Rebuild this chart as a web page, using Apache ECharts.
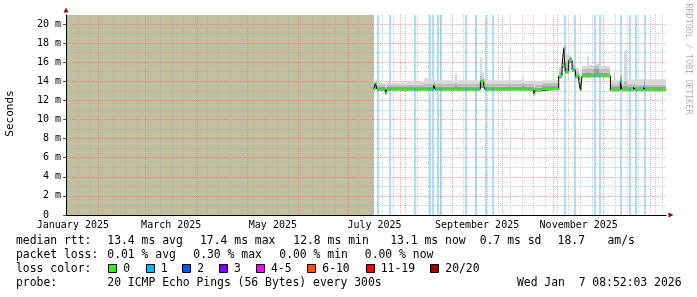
<!DOCTYPE html>
<html><head><meta charset="utf-8">
<script src="https://cdn.jsdelivr.net/npm/echarts@6/dist/echarts.min.js"></script>
<style>html,body{margin:0;padding:0;background:#fff}#c{width:697px;height:297px}</style>
</head><body><div id="c"></div><script>
// ---- time range & ticks ----
const startTime = '2025-01-12T08:52:03Z';
const endTime = '2026-01-07T08:52:03Z';
const monthLabels = ['January 2025','March 2025','May 2025','July 2025','September 2025','November 2025'];
const labelMonthIdx = [0, 2, 4, 6, 8, 10];
const yTickValues = [0,2,4,6,8,10,12,14,16,18,20];
const yTickLabels = ['0  ','2 m','4 m','6 m','8 m','10 m','12 m','14 m','16 m','18 m','20 m'];
const yMinorValues = [1,3,5,7,9,11,13,15,17,19];
const yMax = 20.94;
const firstDataDate = '2025-07-16';

// ---- median rtt (ms), step changes ----
const medianDates = ['2025-07-16','2025-07-17','2025-07-18','2025-07-23','2025-07-24','2025-08-21','2025-08-22',
  '2025-09-18','2025-09-20','2025-09-21','2025-10-20','2025-10-21','2025-10-25','2025-11-04','2025-11-06',
  '2025-11-07','2025-11-08','2025-11-10','2025-11-12','2025-11-14','2025-11-16','2025-11-17','2025-11-18',
  '2025-12-05','2025-12-11','2025-12-12','2025-12-19','2025-12-20','2025-12-25','2025-12-26'];
const medianValues = [13.2,13.8,13.15,12.8,13.15,13.6,13.15,
  14.0,13.5,13.15,12.7,13.05,13.2,14.55,15.7,
  17.45,15.0,16.2,15.2,14.5,14.0,13.1,14.55,
  13.1,14.0,13.1,13.4,13.1,13.4,13.1];

// ---- days with packet loss (1/20) ----
const lossDates = ['2025-07-18','2025-07-25','2025-08-09','2025-08-18','2025-08-20','2025-08-23','2025-08-25',
  '2025-09-09','2025-09-15','2025-09-21','2025-09-25','2025-11-07','2025-11-13','2025-11-25','2025-11-28',
  '2025-12-11','2025-12-16','2025-12-20','2025-12-25'];

// ---- smoke (ping distribution), step changes ----
const smokeDates = ['2025-07-16','2025-07-17','2025-07-18','2025-07-23','2025-07-24','2025-07-25','2025-07-26',
  '2025-08-05','2025-08-15','2025-08-21','2025-08-22','2025-09-03','2025-09-04','2025-09-18','2025-09-19',
  '2025-09-20','2025-09-21','2025-10-05','2025-10-06','2025-10-13','2025-10-14','2025-10-20','2025-10-21',
  '2025-10-25','2025-11-04','2025-11-06','2025-11-07','2025-11-08','2025-11-10','2025-11-12','2025-11-14',
  '2025-11-16','2025-11-17','2025-11-18','2025-11-21','2025-11-22','2025-11-25','2025-11-28','2025-12-05',
  '2025-12-07','2025-12-08','2025-12-11','2025-12-12','2025-12-13','2025-12-15','2025-12-19','2025-12-20',
  '2025-12-25','2025-12-26'];
const smokeLow  = [13.0,13.2,13.0,12.6,13.0,13.0,13.0, 13.0,13.0,13.15,13.0,13.0,13.0,13.3,13.3,
  13.1,13.0,13.0,13.0,13.0,13.0,12.5,12.9, 13.05,14.3,15.4,16.9,14.8,15.9,15.0,14.3,
  13.8,13.0,14.4,14.4,14.4,14.4,14.4,12.95, 12.95,12.95,13.85,12.95,12.95,12.95,13.2,12.95, 13.2,12.95];
const smokeQ1   = [13.45,13.6,13.4,13.0,13.4,13.4,13.4, 13.4,13.45,13.55,13.45,13.5,13.45,13.9,13.75,
  13.55,13.45,13.5,13.45,13.5,13.45,12.95,13.35, 13.5,14.85,15.95,17.6,15.4,16.45,15.45,14.75,
  14.25,13.45,14.9,14.95,14.9,15.3,14.9,13.4, 13.45,13.4,14.35,13.4,13.55,13.4,13.55,13.4, 13.95,13.4];
const smokeQ2   = [13.7,13.9,13.6,13.4,13.6,13.65,13.6, 13.65,13.75,13.95,13.75,13.85,13.75,14.6,14.3,
  13.95,13.75,13.85,13.75,13.85,13.75,13.35,13.65, 13.8,15.15,16.1,18.0,16.1,16.6,15.7,15.05,
  14.55,13.95,15.3,15.4,15.3,15.6,15.3,13.7, 13.85,13.7,14.65,13.65,14.05,13.7,13.85,13.65, 14.25,13.65];
const smokeHigh = [14.0,14.2,13.85,13.8,13.9,14.05,13.85, 13.95,14.3,14.4,14.1,14.8,14.1,16.5,14.9,
  14.3,14.1,15.6,14.1,14.4,14.05,13.9,14.0, 14.1,15.5,16.3,18.3,16.9,16.7,15.9,15.4,
  14.8,14.4,15.6,16.6,15.7,15.8,15.6,14.1, 15.2,14.1,15.0,14.0,17.3,14.2,14.2,14.2, 14.5,14.2];

// ---- legend texts ----
const rttStats = [['median rtt:',16],['13.4 ms avg',107.3],['17.4 ms max',200],['12.8 ms min',293.3],['13.1 ms now',390.2],['0.7 ms sd',479.7],['18.7',557.6],['am/s',607.5]];
const lossStats = [['packet loss:',16],['0.01 % avg',107.3],['0.30 % max',193.3],['0.00 % min',279.3],['0.00 % now',364.8]];
const lossLabels = ['0','1','2','3','4-5','6-10','11-19','20/20'];
const lossColors = ['#26ff00','#00b8ff','#0059ff','#7e00ff','#ff00ff','#ff5500','#ff0000','#a10000'];
const lossSwatchX = [108.3,145.7,182.3,219,256,307.3,365.7,430.3];
const probeText = '20 ICMP Echo Pings (56 Bytes) every 300s';
const stampText = 'Wed Jan  7 08:52:03 2026';

// ---- build ----
const DAY = 86400000;
const ts = s => new Date(s.length === 10 ? s + 'T00:00:00Z' : s).getTime();
const xMin = ts(startTime), xMax = ts(endTime);
const monthStarts = [];
for (let y = 2025, m = 1; ; ) { const t = Date.UTC(y, m, 1); if (t > xMax) break; monthStarts.push(t); m++; if (m === 12) { m = 0; y++; } }
const weekly = [];
for (let t = Date.UTC(2025, 0, 13); t < xMax; t += 7 * DAY) weekly.push(t);
const labelPos = labelMonthIdx.map(m => (Date.UTC(2025, m, 1) + Date.UTC(2025, m + 1, 1)) / 2);
const labelMap = {}; labelPos.forEach((p, i) => labelMap[p] = monthLabels[i]);
const yLabelMap = {}; yTickValues.forEach((v, i) => yLabelMap[v] = yTickLabels[i]);

const medTs = medianDates.map(ts);
const medianLine = medTs.map((t, i) => [t, medianValues[i]]);
medianLine.push([xMax, medianValues[medianValues.length - 1]]);
const medianAt = t => { let v = medianValues[0]; for (let i = 0; i < medTs.length; i++) if (medTs[i] <= t) v = medianValues[i]; return v; };
const greenData = [];
medTs.forEach((t, i) => { const t1 = i + 1 < medTs.length ? medTs[i + 1] : xMax; greenData.push([t, medianValues[i]], [t1, medianValues[i]], [t1, '-']); });
const blueData = [];
lossDates.forEach(d => { const t = ts(d), v = medianAt(t); blueData.push([t, v], [t + DAY, v], [t + DAY, '-']); });

const smokeData = smokeDates.map((d, i) => [ts(d), i + 1 < smokeDates.length ? ts(smokeDates[i + 1]) : xMax, smokeLow[i], smokeQ1[i], smokeQ2[i], smokeHigh[i]]);
const bgData = [[xMin, ts(firstDataDate), 0]].concat(lossDates.map(d => [ts(d), ts(d) + DAY, 1]));

const MONO = '"DejaVu Sans Mono", monospace';
const RED = 'rgba(225,110,110,0.55)';
const GRAY = 'rgba(170,170,170,0.6)';

const graphic = [];
const addText = (text, x, y, opts) => graphic.push(Object.assign({ type: 'text', x, y, silent: true,
  style: Object.assign({ text, font: '11.4px ' + MONO, fill: '#000', align: 'left', verticalAlign: 'middle' }, (opts && opts.style) || {}) }, opts && opts.rotation !== undefined ? { rotation: opts.rotation } : {}));
rttStats.forEach(([t, x]) => addText(t, x, 241.5));
lossStats.forEach(([t, x]) => addText(t, x, 255.3));
addText('loss color:', 16, 269.1);
lossLabels.forEach((l, i) => {
  graphic.push({ type: 'rect', silent: true, shape: { x: Math.round(lossSwatchX[i]) + 0.5, y: 264.5, width: 8, height: 8 }, style: { fill: lossColors[i], stroke: '#000', lineWidth: 1 } });
  addText(l, lossSwatchX[i] + 15, 269.1);
});
addText('probe:', 16, 282.9);
addText(probeText, 107.3, 282.9);
addText(stampText, 681.5, 282.9, { style: { align: 'right' } });
addText('Seconds', 10.3, 113.5, { rotation: Math.PI / 2, style: { align: 'center', font: '11px ' + MONO } });
addText('RRDTOOL / TOBI OETIKER', 688.5, 59, { rotation: -Math.PI / 2, style: { align: 'center', font: '8.4px ' + MONO, fill: '#b4b4b4' } });

const chart = echarts.init(document.getElementById('c'), null, { renderer: 'canvas' });
chart.setOption({
  animation: false,
  backgroundColor: '#fff',
  grid: { left: 66, right: 31, top: 15, bottom: 82, containLabel: false, outerBoundsMode: 'none' },
  xAxis: [
    { type: 'value', position: 'bottom', min: xMin, max: xMax,
      axisLine: { show: true, onZero: false, lineStyle: { color: '#000', width: 1 } },
      axisTick: { show: false, customValues: monthStarts },
      axisLabel: { show: true, customValues: labelPos, formatter: v => labelMap[v] || '', color: '#000', fontFamily: MONO, fontSize: 10, margin: 5 },
      splitLine: { show: true, lineStyle: { color: RED, width: 1, type: [1, 1] } } },
    { type: 'value', position: 'bottom', min: xMin, max: xMax,
      axisLine: { show: true, onZero: false, lineStyle: { color: '#a00000', width: 0 }, symbol: ['none', 'triangle'], symbolSize: [5, 5], symbolOffset: [0, 5] },
      axisTick: { show: false, customValues: weekly },
      axisLabel: { show: false },
      splitLine: { show: true, lineStyle: { color: GRAY, width: 1, type: [1, 1] } } }
  ],
  yAxis: [
    { type: 'value', position: 'left', min: 0, max: yMax,
      axisLine: { show: true, onZero: false, lineStyle: { color: '#000', width: 1 } },
      axisTick: { show: true, customValues: yTickValues, length: 3, lineStyle: { color: '#555' } },
      axisLabel: { show: true, customValues: yTickValues, formatter: v => yLabelMap[v] || '', color: '#000', fontFamily: MONO, fontSize: 10, margin: 5 },
      splitLine: { show: true, lineStyle: { color: RED, width: 1, type: [1, 1] } } },
    { type: 'value', position: 'left', min: 0, max: yMax,
      axisLine: { show: true, onZero: false, lineStyle: { color: '#a00000', width: 0 }, symbol: ['none', 'triangle'], symbolSize: [5, 5], symbolOffset: [0, 5] },
      axisTick: { show: false, customValues: yMinorValues },
      axisLabel: { show: false },
      splitLine: { show: true, lineStyle: { color: GRAY, width: 1, type: [1, 1] } } }
  ],
  series: [
    { type: 'custom', name: 'background', z: -1, xAxisIndex: 0, yAxisIndex: 0, data: bgData,
      encode: { x: [0, 1], y: 2 },
      renderItem: (params, api) => {
        const p0 = api.coord([api.value(0), yMax]), p1 = api.coord([api.value(1), 0]);
        const x0 = Math.round(p0[0]), x1 = Math.round(p1[0]);
        return { type: 'rect', shape: { x: x0, y: p0[1], width: Math.max(2, x1 - x0), height: p1[1] - p0[1] },
          style: { fill: api.value(2) === 0 ? '#c1bf9e' : '#a6e3f8' } };
      } },
    { type: 'custom', name: 'smoke', z: 2, xAxisIndex: 0, yAxisIndex: 0, data: smokeData,
      encode: { x: [0, 1], y: [2, 5] },
      renderItem: (params, api) => {
        const x0v = api.value(0), x1v = api.value(1);
        const v = [api.value(2), api.value(3), api.value(4), api.value(5)];
        const cols = ['#9c9c9c', '#bcbcbc', '#d8d8d8'];
        const children = [];
        for (let k = 0; k < 3; k++) {
          const a = api.coord([x0v, v[k + 1]]), b = api.coord([x1v, v[k]]);
          const xa = Math.round(a[0]), xb = Math.round(b[0]);
          children.push({ type: 'rect', shape: { x: xa, y: a[1], width: xb - xa, height: b[1] - a[1] }, style: { fill: cols[k] } });
        }
        return { type: 'group', children };
      } },
    { type: 'line', name: 'median', z: 3, step: 'end', data: medianLine, symbol: 'none',
      lineStyle: { color: '#000', width: 1 } },
    { type: 'line', name: 'median 0 loss', z: 4, data: greenData, symbol: 'none', connectNulls: false,
      lineStyle: { color: '#26ff00', width: 2 } },
    { type: 'line', name: 'median 1 loss', z: 5, data: blueData, symbol: 'none', connectNulls: false,
      lineStyle: { color: '#00b8ff', width: 2 } }
  ],
  graphic
});
</script></body></html>
